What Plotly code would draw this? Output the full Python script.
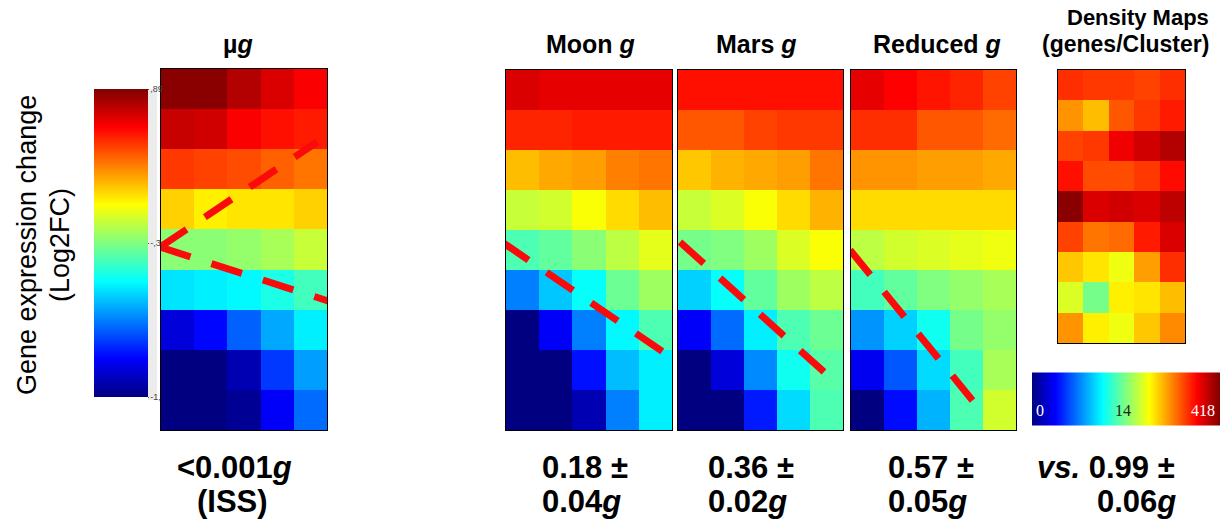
import plotly.graph_objects as go

# ---------------- data (colour level 0..1 on the jet scale) ----------------
rows = list(range(9))
cols = list(range(5))

ug_vals = [
    [0.99, 0.99, 0.95, 0.91, 0.88],
    [0.93, 0.92, 0.88, 0.86, 0.85],
    [0.82, 0.81, 0.80, 0.78, 0.76],
    [0.67, 0.64, 0.65, 0.65, 0.67],
    [0.51, 0.51, 0.52, 0.54, 0.57],
    [0.35, 0.36, 0.37, 0.40, 0.44],
    [0.09, 0.13, 0.22, 0.29, 0.36],
    [0.00, 0.00, 0.05, 0.18, 0.28],
    [0.00, 0.00, 0.02, 0.12, 0.23],
]
moon_vals = [
    [0.91, 0.90, 0.90, 0.90, 0.90],
    [0.84, 0.84, 0.85, 0.85, 0.85],
    [0.69, 0.71, 0.72, 0.75, 0.76],
    [0.57, 0.58, 0.62, 0.66, 0.69],
    [0.45, 0.47, 0.51, 0.56, 0.60],
    [0.25, 0.32, 0.38, 0.48, 0.53],
    [0.00, 0.12, 0.25, 0.37, 0.45],
    [0.00, 0.00, 0.14, 0.31, 0.36],
    [0.00, 0.00, 0.05, 0.25, 0.36],
]
mars_vals = [
    [0.86, 0.86, 0.86, 0.86, 0.86],
    [0.79, 0.79, 0.81, 0.82, 0.82],
    [0.68, 0.70, 0.71, 0.72, 0.76],
    [0.57, 0.59, 0.62, 0.66, 0.70],
    [0.49, 0.50, 0.53, 0.59, 0.62],
    [0.33, 0.38, 0.47, 0.53, 0.56],
    [0.12, 0.23, 0.36, 0.45, 0.48],
    [0.00, 0.09, 0.26, 0.39, 0.46],
    [0.00, 0.00, 0.15, 0.34, 0.45],
]
reduced_vals = [
    [0.90, 0.875, 0.855, 0.84, 0.81],
    [0.83, 0.83, 0.79, 0.79, 0.77],
    [0.73, 0.73, 0.72, 0.72, 0.71],
    [0.66, 0.66, 0.66, 0.66, 0.66],
    [0.56, 0.58, 0.59, 0.60, 0.61],
    [0.44, 0.47, 0.50, 0.52, 0.54],
    [0.27, 0.33, 0.39, 0.49, 0.52],
    [0.11, 0.21, 0.34, 0.44, 0.54],
    [0.00, 0.135, 0.30, 0.45, 0.58],
]
density_vals = [
    [0.83, 0.82, 0.82, 0.81, 0.83],
    [0.73, 0.69, 0.79, 0.82, 0.85],
    [0.81, 0.82, 0.89, 0.92, 0.95],
    [0.86, 0.80, 0.80, 0.82, 0.865],
    [0.99, 0.91, 0.92, 0.91, 0.94],
    [0.81, 0.76, 0.77, 0.85, 0.91],
    [0.68, 0.65, 0.61, 0.72, 0.83],
    [0.59, 0.49, 0.64, 0.65, 0.69],
    [0.73, 0.64, 0.61, 0.68, 0.74],
]

panel_titles = ["µ<i>g</i>", "Moon <i>g</i>", "Mars <i>g</i>", "Reduced <i>g</i>"]
density_title = ["Density Maps", "(genes/Cluster)"]
lfc_tickvals = [1.0, 0.5, 0.0]
lfc_ticktext = [",89", "-,3", "-1,"]
density_tickvals = [0.0, 0.5, 1.0]
density_ticktext = ["0", "14", "418"]
axis_label = ["Gene expression change", "(Log2FC)"]
bottom_line1 = ["<0.001<i>g</i>", "0.18 ±", "0.36 ±", "0.57 ±", "<i>vs.</i> 0.99 ±"]
bottom_line2 = ["(ISS)", "0.04<i>g</i>", "0.02<i>g</i>", "0.05<i>g</i>", "0.06<i>g</i>"]

# dashed trend lines in cell coordinates (column, row)
ug_lines = [[(-0.53, 3.94), (4.2, 1.32)], [(-0.53, 3.94), (4.6, 5.3)]]
moon_lines = [[(-0.62, 3.8), (4.38, 6.63)]]
mars_lines = [[(-0.44, 3.8), (4.1, 7.18)]]
reduced_lines = [[(-0.53, 4.0), (3.35, 7.93)]]

# ---------------- layout geometry (pixels) ----------------
W, H = 1220, 522
def fx(x): return x / W
def fy(y): return 1 - y / H

jet = [[0.0, "rgb(0,0,128)"], [0.125, "rgb(0,0,255)"], [0.375, "rgb(0,255,255)"],
       [0.625, "rgb(255,255,0)"], [0.875, "rgb(255,0,0)"], [1.0, "rgb(128,0,0)"]]

panels = [
    (ug_vals, (161, 327, 69, 430), ug_lines),
    (moon_vals, (506, 672, 70, 430), moon_lines),
    (mars_vals, (678, 843, 70, 430), mars_lines),
    (reduced_vals, (851, 1016, 70, 430), reduced_lines),
    (density_vals, (1058, 1185, 70, 343), []),
]

fig = go.Figure()
shapes = []
layout_axes = {}
for i, (vals, (x0, x1, y0, y1), lines) in enumerate(panels):
    n = "" if i == 0 else str(i + 1)
    tr = dict(z=vals, x=cols, y=rows, colorscale=jet, zmin=0, zmax=1,
              xaxis="x" + n, yaxis="y" + n, showscale=False, hoverinfo="skip")
    if i == 0:
        tr.update(showscale=True, colorbar=dict(
            x=fx(94), xanchor="left", xpad=0, y=fy(243), yanchor="middle", ypad=0,
            len=(397 - 89) / H, lenmode="fraction", thickness=54, outlinewidth=0,
            tickvals=lfc_tickvals, ticktext=lfc_ticktext, ticks="outside", ticklen=1,
            tickcolor="#555", tickfont=dict(family="Liberation Sans", size=9, color="#444")))
    if i == 4:
        tr.update(showscale=True, colorbar=dict(
            orientation="h", x=fx(1032), xanchor="left", xpad=0, y=fy(398.5), yanchor="middle",
            ypad=0, len=(1220 - 1032) / W, lenmode="fraction", thickness=53, outlinewidth=0,
            tickvals=density_tickvals, showticklabels=False, ticks=""))
    fig.add_trace(go.Heatmap(**tr))
    layout_axes["xaxis" + n] = dict(domain=[fx(x0), fx(x1)], range=[-0.5, 4.5], showticklabels=False,
                                    showgrid=False, zeroline=False, showline=True, mirror=True,
                                    linecolor="black", linewidth=1, ticks="", anchor="y" + n)
    layout_axes["yaxis" + n] = dict(domain=[fy(y1), fy(y0)], range=[8.5, -0.5], showticklabels=False,
                                    showgrid=False, zeroline=False, showline=True, mirror=True,
                                    linecolor="black", linewidth=1, ticks="", anchor="x" + n)
    for (a, b) in lines:
        shapes.append(dict(type="line", xref="x" + n, yref="y" + n, x0=a[0], y0=a[1], x1=b[0], y1=b[1],
                           line=dict(color="rgb(250,10,10)", width=7, dash="32px,22px")))

# light strip behind the colour-bar labels
shapes.append(dict(type="rect", xref="paper", yref="paper", x0=fx(148), x1=fx(157), y0=fy(400), y1=fy(89),
                   fillcolor="rgb(236,236,236)", line=dict(width=0), layer="below"))

title_font = dict(family="Liberation Sans", size=25, color="black")
ann = []
title_x = [238, 590, 757, 937]
for t, x in zip(panel_titles, title_x):
    ann.append(dict(text="<b>%s</b>" % t, x=fx(x), y=fy(44), xref="paper", yref="paper",
                    xanchor="center", yanchor="middle", showarrow=False, font=title_font))
ann.append(dict(text="<b>%s</b>" % density_title[0], x=fx(1211), y=fy(17), xref="paper", yref="paper",
                xanchor="right", yanchor="middle", showarrow=False,
                font=dict(family="Liberation Sans", size=22, color="black")))
ann.append(dict(text="<b>%s</b>" % density_title[1], x=fx(1211), y=fy(44), xref="paper", yref="paper",
                xanchor="right", yanchor="middle", showarrow=False,
                font=dict(family="Liberation Sans", size=23, color="black")))

for t, x in zip(axis_label, [27, 60]):
    ann.append(dict(text=t, x=fx(x), y=fy(245), xref="paper", yref="paper", textangle=-90,
                    xanchor="center", yanchor="middle", showarrow=False,
                    font=dict(family="Liberation Sans", size=27, color="black")))

bottom_font = dict(family="Liberation Sans", size=31, color="black")
line1_pos = [(234, "center"), (540, "left"), (706, "left"), (886, "left"), (1035, "left")]
line2_pos = [(232, "center"), (540, "left"), (706, "left"), (886, "left"), (1178, "right")]
for t, (x, xa) in zip(bottom_line1, line1_pos):
    ann.append(dict(text="<b>%s</b>" % t, x=fx(x), y=fy(467), xref="paper", yref="paper",
                    xanchor=xa, yanchor="middle", showarrow=False, font=bottom_font))
for t, (x, xa) in zip(bottom_line2, line2_pos):
    ann.append(dict(text="<b>%s</b>" % t, x=fx(x), y=fy(501), xref="paper", yref="paper",
                    xanchor=xa, yanchor="middle", showarrow=False, font=bottom_font))

# density colour-bar labels, placed at their tick values along the bar
cb_x0, cb_x1 = 1032, 1220
dens_lab_colors = ["white", "#222", "white"]
dens_anchor = ["left", "center", "right"]
for v, t, c, a in zip(density_tickvals, density_ticktext, dens_lab_colors, dens_anchor):
    xp = cb_x0 + v * (cb_x1 - cb_x0) + (2 if a == "left" else -3)
    ann.append(dict(text=t, x=fx(xp), y=fy(410), xref="paper", yref="paper", xanchor=a,
                    yanchor="middle", showarrow=False,
                    font=dict(family="Liberation Serif", size=16, color=c)))

fig.update_layout(width=W, height=H, margin=dict(l=0, r=0, t=0, b=0), paper_bgcolor="white",
                  plot_bgcolor="white", shapes=shapes, annotations=ann, showlegend=False,
                  **layout_axes)
fig.write_html("out.html")
